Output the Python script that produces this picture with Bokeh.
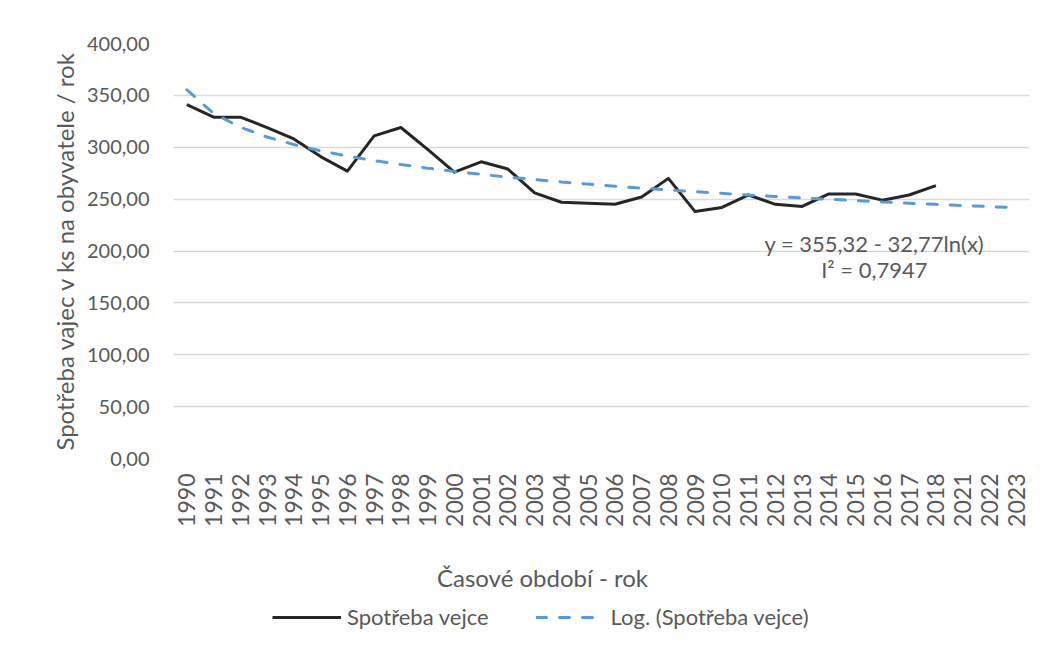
import numpy as np
from bokeh.plotting import figure
from bokeh.layouts import column
from bokeh.models import (FactorRange, Range1d, Label, Legend, LegendItem,
                          CustomJSTickFormatter, SingleIntervalTicker)
from bokeh.embed import file_html
from bokeh.resources import INLINE

# ---- data ----
years = [str(y) for y in range(1990, 2019)] + ["2021", "2022", "2023"]
data_years = [str(y) for y in range(1990, 2019)]
consumption = [341, 329, 329, 319, 308, 291, 277, 311, 319, 298,
               276, 286, 279, 256, 247, 246, 245, 252, 270, 238,
               242, 254, 245, 243, 255, 255, 249, 254, 263]
trend_a = 355.32
trend_b = 32.77
r2 = 0.7947

# logarithmic trend line as displayed by the chart (x = 1..N)
trend_x = np.arange(1, len(years) + 1)
trend_vals = trend_a - trend_b * np.log(trend_x)

FONT = "Lato"
GREY = "#595959"
TREND_STYLE = dict(line_color="#5b9bd5", line_width=3, line_dash="10 13", line_cap="round")
DATA_STYLE = dict(line_color="#262626", line_width=3, line_join="round")

p = figure(x_range=FactorRange(*years, range_padding=0), y_range=Range1d(0, 400),
           frame_width=856, frame_height=415, output_backend="svg", toolbar_location=None,
           min_border_left=173, min_border_right=11, min_border_top=43,
           min_border_bottom=70)
p.outline_line_color = None
p.background_fill_color = "white"
p.border_fill_color = "white"

p.line(data_years, consumption, **DATA_STYLE)
p.line(years, trend_vals, **TREND_STYLE)

# axes
p.yaxis.ticker = SingleIntervalTicker(interval=50)
p.yaxis.formatter = CustomJSTickFormatter(code="return tick.toFixed(2).replace('.', ',');")
p.yaxis.axis_line_color = None
p.yaxis.major_tick_line_color = None
p.yaxis.minor_tick_line_color = None
p.yaxis.major_label_standoff = 18
p.yaxis.major_label_text_font = FONT
p.yaxis.major_label_text_font_size = "20px"
p.yaxis.major_label_text_color = GREY
p.yaxis.axis_label = "Spotřeba vajec v ks na obyvatele / rok"
p.yaxis.axis_label_text_font = FONT
p.yaxis.axis_label_text_font_size = "24px"
p.yaxis.axis_label_text_font_style = "normal"
p.yaxis.axis_label_text_color = GREY
p.yaxis.axis_label_standoff = 5

p.xaxis.axis_line_color = None
p.xaxis.major_tick_line_color = None
p.xaxis.minor_tick_line_color = None
p.xaxis.major_label_orientation = np.pi / 2
p.xaxis.major_label_standoff = 9
p.xaxis.major_label_text_font = FONT
p.xaxis.major_label_text_font_size = "23px"
p.xaxis.major_label_text_color = GREY

p.xgrid.grid_line_color = None
p.ygrid.grid_line_color = "#d9d9d9"
p.ygrid.grid_line_width = 1.5

# trend equation
eq1 = Label(x=26.2, y=207, text="y = %s - %sln(x)" % (f"{trend_a:.2f}".replace('.', ','),
                                                     f"{trend_b:.2f}".replace('.', ',')),
            text_align="center", text_baseline="middle", text_font=FONT,
            text_font_size="22px", text_color=GREY)
eq2 = Label(x=26.2, y=182, text="I² = " + f"{r2:.4f}".replace('.', ','),
            text_align="center", text_baseline="middle", text_font=FONT,
            text_font_size="22px", text_color=GREY)
p.add_layout(eq1)
p.add_layout(eq2)

# ---- lower strip: x-axis title and legend (frame aligned with the main frame) ----
FW2, H2 = 856, 112
p2 = figure(frame_width=FW2, height=H2, x_range=Range1d(0, FW2), y_range=Range1d(0, H2),
            x_axis_type=None, y_axis_type=None, output_backend="svg",
            toolbar_location=None, min_border=0)
p2.outline_line_color = None
p2.xgrid.grid_line_color = None
p2.ygrid.grid_line_color = None
p2.background_fill_color = "white"
p2.border_fill_color = "white"

p2.add_layout(Label(x=369, y=64, text="Časové období - rok", text_align="center",
                    text_baseline="middle", text_font=FONT, text_font_size="24px",
                    text_color=GREY))

# legend-only renderers (no visible points)
l_data = p2.line([np.nan, np.nan], [np.nan, np.nan], **DATA_STYLE)
l_trend = p2.line([np.nan, np.nan], [np.nan, np.nan], **TREND_STYLE)
legend = Legend(items=[LegendItem(label="Spotřeba vejce", renderers=[l_data]),
                       LegendItem(label="Log. (Spotřeba vejce)", renderers=[l_trend])],
                orientation="horizontal", location=(272, 11),
                glyph_width=69, glyph_height=24, label_standoff=6, spacing=47,
                label_text_font=FONT, label_text_font_size="22px",
                label_text_color=GREY, border_line_color=None,
                background_fill_alpha=0, margin=0, padding=0)
p2.add_layout(legend, "center")

layout = column(p, p2, spacing=0)
open("out.html", "w").write(file_html(layout, INLINE))
